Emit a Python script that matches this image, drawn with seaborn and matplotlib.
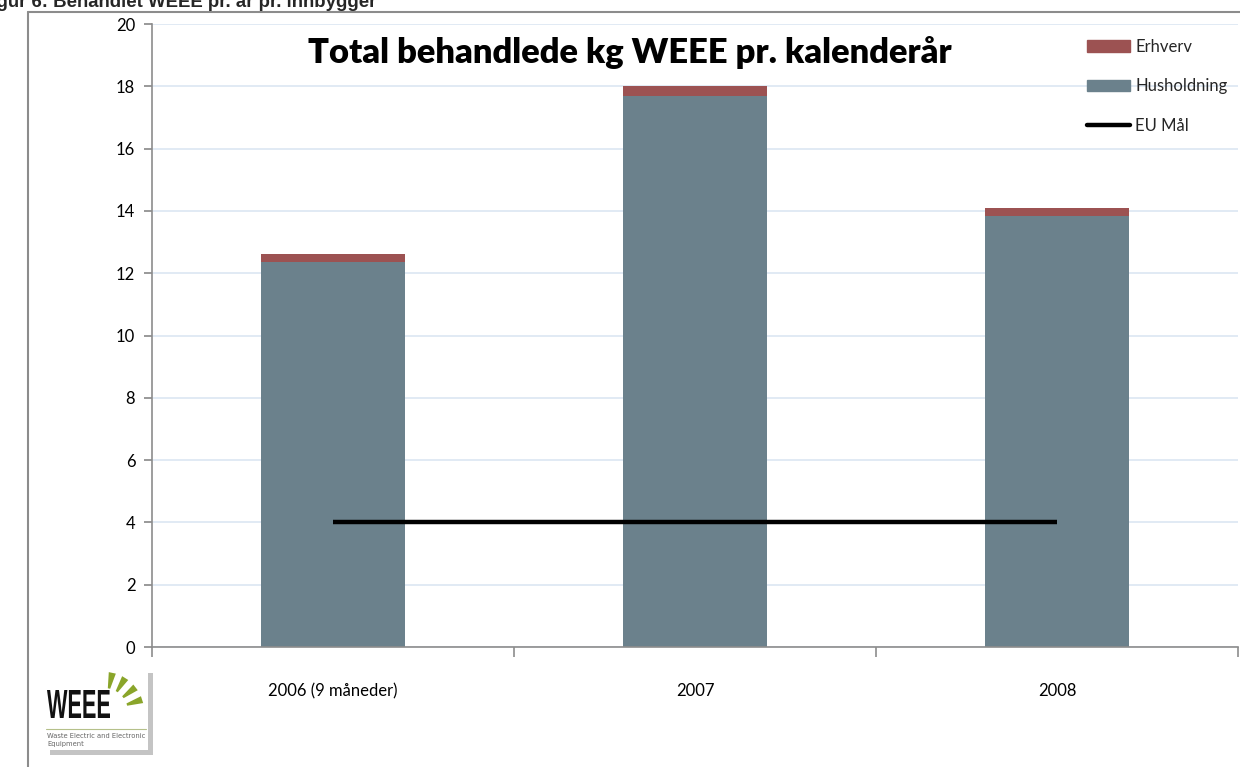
import matplotlib
matplotlib.use("Agg")
import matplotlib.pyplot as plt
import seaborn as sns
import pandas as pd
import numpy as np
from matplotlib.patches import Rectangle, Polygon, PathPatch, Patch
from matplotlib.lines import Line2D
from matplotlib.textpath import TextPath
from matplotlib.font_manager import FontProperties
from matplotlib.transforms import Affine2D

categories = ["2006 (9 måneder)", "2007", "2008"]
husholdning = [12.35, 17.7, 13.83]
erhverv = [0.27, 0.3, 0.26]
eu_maal = [4, 4, 4]
yticks = [0, 2, 4, 6, 8, 10, 12, 14, 16, 18, 20]

sns.set_theme(style="white")
plt.rcParams['font.family'] = ['Lato', 'DejaVu Sans']

df = pd.DataFrame({"kat": categories, "Husholdning": husholdning, "Erhverv": erhverv})
df["Total"] = df["Husholdning"] + df["Erhverv"]

W, H = 1240, 767
fig = plt.figure(figsize=(W / 100, H / 100), dpi=100)
ax = fig.add_axes([152 / W, 1 - 647 / H, (1238 - 152) / W, (647 - 24) / H])

c_hus = "#6b818c"
c_erh = "#9c5252"

sns.barplot(data=df, x="kat", y="Total", color=c_erh, width=0.4, ax=ax, saturation=1, linewidth=0)
sns.barplot(data=df, x="kat", y="Husholdning", color=c_hus, width=0.4, ax=ax, saturation=1, linewidth=0)
ax.plot(range(len(categories)), eu_maal, color="black", lw=3.2, solid_capstyle="butt", zorder=5)

ax.set_xlim(-0.5, 2.5)
ax.set_ylim(0, 20)
ax.set_yticks(yticks)
ax.set_yticklabels([str(v) for v in yticks], fontsize=12)
ax.set_xticks(range(len(categories)))
ax.set_xticklabels(categories, fontsize=12)
ax.set_xlabel("")
ax.set_ylabel("")
ax.yaxis.grid(True, color="#dce6f2", lw=1.2)
ax.set_axisbelow(True)
for s in ["top", "right"]:
    ax.spines[s].set_visible(False)
for s in ["left", "bottom"]:
    ax.spines[s].set_color("#8c8c8c")
    ax.spines[s].set_linewidth(1.2)
ax.tick_params(axis="y", which="major", left=True, length=6, color="#8c8c8c", pad=6, labelcolor="black")
ax.tick_params(axis="x", which="major", bottom=False, pad=20, labelcolor="black")
ax.set_xticks([-0.5, 0.5, 1.5, 2.5], minor=True)
ax.tick_params(axis="x", which="minor", bottom=True, length=7, color="#8c8c8c", width=1.2)

ax.text(0.44, 0.955, "Total behandlede kg WEEE pr. kalenderår", transform=ax.transAxes,
        ha="center", va="center", fontsize=24.8, fontweight="heavy", color="black")

handles = [Patch(color=c_erh, label="Erhverv"), Patch(color=c_hus, label="Husholdning"),
           Line2D([0], [0], color="black", lw=3.2, label="EU Mål")]
leg = ax.legend(handles=handles, loc="upper left",
                bbox_to_anchor=((1072 - 152) / (1238 - 152), 1.0),
                frameon=False, fontsize=12, handlelength=2.6, handleheight=0.7,
                labelspacing=1.4, handletextpad=0.3, borderaxespad=0.5)

# outer frame (cropped screenshot border)
fig.add_artist(Line2D([28 / W, 28 / W], [0, 1 - 12 / H], transform=fig.transFigure, color="#8c8c8c", lw=1.5))
fig.add_artist(Line2D([28 / W, 1], [1 - 12 / H, 1 - 12 / H], transform=fig.transFigure, color="#8c8c8c", lw=1.5))

# cut-off figure caption at very top (as in the reference screenshot)
fig.text(-20 / W, 1 - 7 / H, "Figur 6: Behandlet WEEE pr. år pr. innbygger", fontsize=13.4, fontweight="bold",
         family=["Liberation Sans", "DejaVu Sans"], va="baseline", ha="left")

# logo
fig.add_artist(Rectangle((50 / W, 1 - 755 / H), 103 / W, 82 / H, transform=fig.transFigure,
                         facecolor="#c4c4c4", edgecolor="none", zorder=1))
fig.add_artist(Rectangle((45 / W, 1 - 750 / H), 103 / W, 82 / H, transform=fig.transFigure,
                         facecolor="white", edgecolor="none", zorder=2))
tp = TextPath((0, 0), "WEEE", size=10, prop=FontProperties(family="Liberation Sans", weight="bold"))
bb = tp.get_extents()
sx = (110 - 47) / bb.width
sy = (718 - 690) / bb.height
tr = Affine2D().translate(-bb.x0, -bb.y0).scale(sx / W, sy / H).translate(47 / W, 1 - 718 / H) + fig.transFigure
fig.add_artist(PathPatch(tp, transform=tr, facecolor="#111111", edgecolor="none", zorder=3))
fig.add_artist(Line2D([46 / W, 146 / W], [1 - 729 / H, 1 - 729 / H], transform=fig.transFigure,
                      color="#b5c08a", lw=0.8, zorder=3))
fig.text(47 / W, 1 - 738 / H, "Waste Electric and Electronic", fontsize=4.9, color="#666666", zorder=3,
         va="baseline", family=["DejaVu Sans"])
fig.text(47 / W, 1 - 746 / H, "Equipment", fontsize=4.9, color="#666666", zorder=3, va="baseline",
         family=["DejaVu Sans"])
cx, cy = 104, 712
for ang in [78, 58, 38, 18]:
    a = np.deg2rad(ang)
    d = np.array([np.cos(a), np.sin(a)])
    n = np.array([-d[1], d[0]])
    pts = []
    r0, r1 = 24, 40
    for r, w in [(r0, 1.2), (r1, 3.6)]:
        c = np.array([cx, -cy]) + r * d
        pts.append(c + w * n)
        pts.append(c - w * n)
    poly = [pts[0], pts[2], pts[3], pts[1]]
    fig.add_artist(Polygon([(x / W, 1 + y / H) for x, y in poly], closed=True, transform=fig.transFigure,
                           facecolor="#8aa52a", edgecolor="none", zorder=3))

fig.savefig("out.png", dpi=100)
